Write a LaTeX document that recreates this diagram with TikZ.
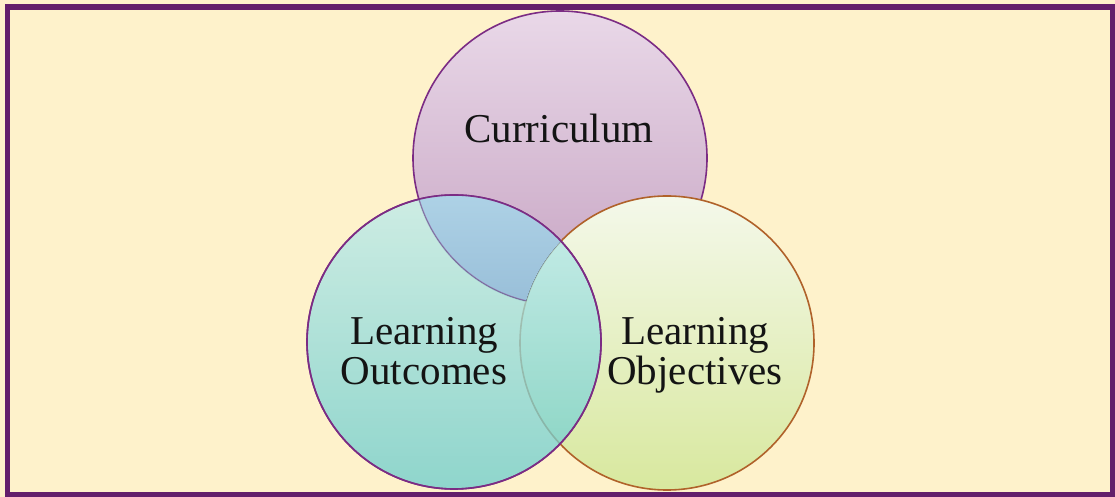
\documentclass[tikz,border=0pt]{standalone}
\usepackage{fontspec}
\setmainfont{Liberation Serif}
\definecolor{framepurple}{HTML}{631F6B}
\definecolor{cream}{HTML}{FEF2CB}
\definecolor{circpurple}{HTML}{7B2C84}
\definecolor{circbrown}{HTML}{B0622A}
\definecolor{curtop}{HTML}{E9D8E8}
\definecolor{curbot}{HTML}{C6A3C2}
\definecolor{objtop}{HTML}{F4F8EA}
\definecolor{objbot}{HTML}{D8E89E}
\definecolor{outtop}{HTML}{BEEBEC}
\definecolor{outbot}{HTML}{6ACCCD}
\definecolor{mixtop}{HTML}{AED2E6}
\definecolor{mixbot}{HTML}{98BED8}
\definecolor{txt}{HTML}{141414}
\tikzset{
  venn/.style={circle, minimum size=294pt, inner sep=0pt, line width=1.6pt},
  lbl/.style={align=center, text=txt, font=\fontsize{41}{40}\selectfont, inner sep=0pt}
}
\begin{document}
\begin{tikzpicture}[x=1pt,y=1pt]
\useasboundingbox (0,0) rectangle (1115,497);
\fill[cream] (0,0) rectangle (1115,497);
\draw[framepurple, line width=5.5pt] (7.5,2.3) rectangle (1112.5,490.2);
\node[venn, draw=circpurple, top color=curtop, bottom color=curbot] (cur) at (560,339) {};
\node[venn, draw=circbrown, top color=objtop, bottom color=objbot] (obj) at (667,154) {};
\node[venn, draw=circpurple, top color=outtop, bottom color=outbot, fill opacity=0.75, draw opacity=1] (out) at (454,155) {};
% curriculum/outcomes overlap (outside objectives)
\begin{scope}
  \clip (cur.center) circle (147);
  \clip (out.center) circle (147);
  \begin{scope}[even odd rule]
    \clip (0,0) rectangle (1115,497) (obj.center) circle (147);
    \fill[top color=mixtop, bottom color=mixbot] (300,190) rectangle (600,305);
    \draw[circpurple, line width=1.6pt, draw opacity=0.55] (cur.center) circle (147);
  \end{scope}
\end{scope}
\draw[circpurple, line width=1.6pt] (out.center) circle (147);
\node[lbl] (curt) at (559,369) {Curriculum};
\node[lbl] (outt) at (424,146) {Learning\\Outcomes};
\node[lbl] (objt) at (695,142) {Learning\\Objectives};
\end{tikzpicture}
\end{document}
